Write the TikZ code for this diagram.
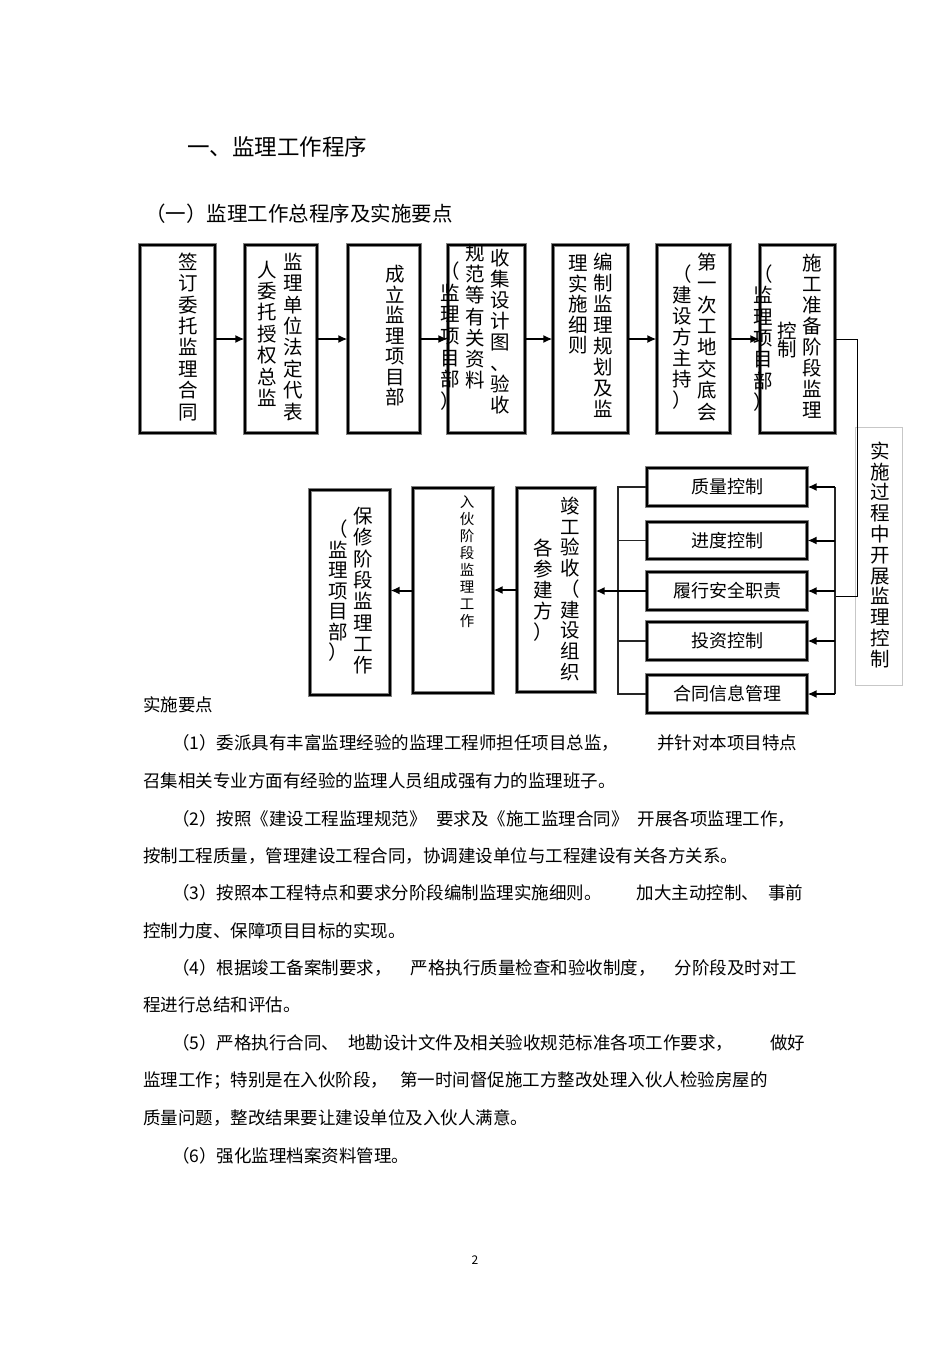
\documentclass[tikz,border=0pt]{standalone}
\usepackage{fontspec}
\setmainfont{Noto Sans CJK SC}
\usetikzlibrary{arrows.meta}
\makeatletter
\newcommand\vtext[2][21.4pt]{\vbox{\baselineskip=#1\lineskiplimit=-100pt\lineskip=0pt\@tfor\nx:=#2\do{\hbox to 1em{\hss\nx\hss\vrule width0pt height.8em depth.2em}}}}
\makeatother
\tikzset{
  frbox/.style={draw=black!50, double=black, double distance=1.6pt, line width=1.1pt, inner sep=0pt, fill=white},
  sidebox/.style={draw=black!22, line width=0.8pt, inner sep=0pt},
  vcol/.style={inner sep=0pt, font=\fontsize{19.5}{21}\selectfont},
  hlab/.style={font=\fontsize{18}{20}\selectfont},
  arrw/.style={-{Latex[length=9pt,width=8pt]}, line width=2pt},
  thinln/.style={line width=0.9pt, black},
  busln/.style={line width=1.1pt, black!85},
  bodyt/.style={anchor=west, inner sep=0pt, font=\fontsize{17.5}{20}\selectfont},
}
\begin{document}
\begin{tikzpicture}[x=1pt,y=-1pt]
\useasboundingbox[fill=white] (0,0) rectangle (950,1345);
% titles
\node[anchor=west, inner sep=0pt, font=\fontsize{22.5}{24}\selectfont] (ttl) at (187,147) {一、监理工作程序};
\node[anchor=west, inner sep=0pt, font=\fontsize{20.5}{22}\selectfont] (sub) at (145,214) {（一）监理工作总程序及实施要点};
% top row boxes
\node[frbox, minimum width=75, minimum height=188] (b1) at (177.5,339) {};
\node[frbox, minimum width=72, minimum height=188] (b2) at (281,339) {};
\node[frbox, minimum width=72, minimum height=188] (b3) at (384,339) {};
\node[frbox, minimum width=77, minimum height=188] (b4) at (486.5,339) {};
\node[frbox, minimum width=75, minimum height=188] (b5) at (590.5,339) {};
\node[frbox, minimum width=73, minimum height=188] (b6) at (693.5,339) {};
\node[frbox, minimum width=75, minimum height=188] (b7) at (797.5,339) {};
% top row texts
\node[vcol] (t1) at (188,338) {\vtext{签订委托监理合同}};
\node[vcol] (t2a) at (293,338) {\vtext{监理单位法定代表}};
\node[vcol] (t2b) at (267,335) {\vtext{人委托授权总监}};
\node[vcol] (t3) at (395,337) {\vtext[20.5pt]{成立监理项目部}};
\node[vcol] (t4a) at (500,333) {\vtext[21pt]{收集设计图、验收}};
\node[vcol] (t4b) at (475,318) {\vtext[21.2pt]{规范等有关资料}};
\node[vcol] (t4c) at (450,337) {\vtext[21.7pt]{（监理项目部）}};
\node[vcol] (t5a) at (603,337) {\vtext[21pt]{编制监理规划及监}};
\node[vcol] (t5b) at (578,306) {\vtext[20.5pt]{理实施细则}};
\node[vcol] (t6a) at (707,338) {\vtext{第一次工地交底会}};
\node[vcol] (t6b) at (682,338) {\vtext[21pt]{（建设方主持）}};
\node[vcol] (t7a) at (812,338) {\vtext[21pt]{施工准备阶段监理}};
\node[vcol] (t7b) at (787,341) {\vtext[18pt]{控制}};
\node[vcol] (t7c) at (763,339) {\vtext[21.3pt]{（监理项目部）}};
% top row arrows
\draw[arrw] (b1.east) -- (b2.west);
\draw[arrw] (b2.east) -- (b3.west);
\draw[arrw] (b3.east) -- (b4.west);
\draw[arrw] (b4.east) -- (b5.west);
\draw[arrw] (b5.east) -- (b6.west);
\draw[arrw] (b6.east) -- (b7.west);
% side box
\node[sidebox, minimum width=47, minimum height=258] (s) at (878.5,556) {};
\node[vcol] (ts) at (880,556) {\vtext[20.8pt]{实施过程中开展监理控制}};
% control boxes
\node[frbox, hlab, minimum width=160, minimum height=38] (c1) at (727,487) {质量控制};
\node[frbox, hlab, minimum width=160, minimum height=37] (c2) at (727,540.5) {进度控制};
\node[frbox, hlab, minimum width=160, minimum height=38] (c3) at (727,591) {履行安全职责};
\node[frbox, hlab, minimum width=160, minimum height=38] (c4) at (727,641) {投资控制};
\node[frbox, hlab, minimum width=160, minimum height=38] (c5) at (727,694) {合同信息管理};
% bottom boxes
\node[frbox, minimum width=80, minimum height=205] (bx) at (350,592.5) {};
\node[frbox, minimum width=80, minimum height=205] (r) at (453,590.5) {};
\node[frbox, minimum width=78, minimum height=204] (j) at (556,590) {};
\node[vcol] (tbxa) at (363,592) {\vtext[21.3pt]{保修阶段监理工作}};
\node[vcol] (tbxb) at (338,592) {\vtext[20.5pt]{（监理项目部）}};
\node[vcol, font=\fontsize{14.5}{16}\selectfont] (tr) at (467,563) {\vtext[17pt]{入伙阶段监理工作}};
\node[vcol] (tja) at (570,590) {\vtext[20.75pt]{竣工验收（建设组织}};
\node[vcol] (tjb) at (543,591) {\vtext[21pt]{各参建方）}};
% connectors to control area
\coordinate (rt) at (835,487);
\coordinate (rb) at (835,694);
\coordinate (sj) at (857,596);
\coordinate (lt) at (618,487);
\draw[thinln] (b7.east) -| (sj) -- (sj -| rt);
\draw[busln] (rt) -- (rb);
\foreach \c in {c1,c2,c3,c4,c5} \draw[arrw] (\c.east -| rt) -- (\c.east);
\draw[busln] (c1.west) -- (c1.west -| lt) -- (c5.west -| lt) -- (c5.west);
\draw[busln] (c2.west) -- (c2.west -| lt);
\draw[busln] (c4.west) -- (c4.west -| lt);
\draw[arrw] (c3.west) -- (c3.west -| j.east);
\draw[arrw] (j.west) -- (j.west -| r.east);
\draw[arrw] (r.west) -- (r.west -| bx.east);
% body text
\node[bodyt] (p0) at (143,705) {实施要点};
\node[bodyt] (p1) at (172,743) {\makebox[625pt][s]{（1）委派具有丰富监理经验的监理工程师担任项目总监，\hfill 并针对本项目特点}};
\node[bodyt] (p2) at (143,781) {召集相关专业方面有经验的监理人员组成强有力的监理班子。};
\node[bodyt] (p3) at (172,819) {\makebox[623pt][s]{（2）按照《建设工程监理规范》\hfill 要求及《施工监理合同》\hfill 开展各项监理工作，}};
\node[bodyt] (p4) at (143,856) {按制工程质量，管理建设工程合同，协调建设单位与工程建设有关各方关系。};
\node[bodyt] (p5) at (172,893) {\makebox[631pt][s]{（3）按照本工程特点和要求分阶段编制监理实施细则。\hfill 加大主动控制、\hspace{0.5em}事前}};
\node[bodyt] (p6) at (143,931) {控制力度、保障项目目标的实现。};
\node[bodyt] (p7) at (172,968) {\makebox[625pt][s]{（4）根据竣工备案制要求，\hfill 严格执行质量检查和验收制度，\hfill 分阶段及时对工}};
\node[bodyt] (p8) at (143,1005) {程进行总结和评估。};
\node[bodyt] (p9) at (172,1043) {\makebox[633pt][s]{（5）严格执行合同、\hspace{0.5em}地勘设计文件及相关验收规范标准各项工作要求，\hfill 做好}};
\node[bodyt] (p10) at (143,1080) {监理工作；特别是在入伙阶段，\hspace{0.7em}第一时间督促施工方整改处理入伙人检验房屋的};
\node[bodyt] (p11) at (143,1118) {质量问题，整改结果要让建设单位及入伙人满意。};
\node[bodyt] (p12) at (172,1156) {（6）强化监理档案资料管理。};
\node[inner sep=0pt, font=\fontsize{12}{14}\selectfont] (pg) at (475,1260) {2};
\end{tikzpicture}
\end{document}
